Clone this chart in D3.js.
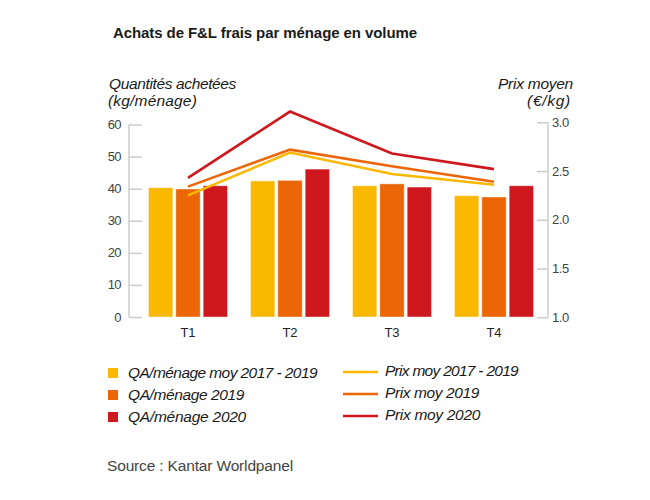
<!DOCTYPE html>
<html><head><meta charset="utf-8">
<script src="https://cdn.jsdelivr.net/npm/d3@7"></script>
<style>
body{margin:0;background:#fff;}
text{font-family:"Liberation Sans",Arial,sans-serif;}
</style></head>
<body><svg id="c" width="650" height="500"></svg>
<script>
const categories = ["T1","T2","T3","T4"];
const barSeries = ["QA/ménage moy 2017 - 2019","QA/ménage 2019","QA/ménage 2020"];
const qaMoy1719 = [40.3, 42.4, 40.9, 37.8];
const qa2019 = [39.9, 42.6, 41.5, 37.4];
const qa2020 = [40.9, 46.1, 40.5, 40.9];
const lineSeries = ["Prix moy 2017 - 2019","Prix moy 2019","Prix moy 2020"];
const prixMoy1719 = [2.25, 2.69, 2.47, 2.36];
const prix2019 = [2.34, 2.72, 2.55, 2.39];
const prix2020 = [2.43, 3.11, 2.68, 2.52];
const leftTicks = [0,10,20,30,40,50,60];
const rightTicks = [1.0,1.5,2.0,2.5,3.0];
const colors = ["#FBB800","#EC6608","#CE181E"];

const svg = d3.select("#c");
const x0 = d3.scaleBand().domain(categories).range([137,545]).paddingInner(0.225).paddingOuter(0.1125);
const x1 = d3.scaleBand().domain([0,1,2]).range([0,x0.bandwidth()]).paddingInner(0.11);
const yL = d3.scaleLinear().domain([0,60]).range([317,124.5]);
const yR = d3.scaleLinear().domain([1,3]).range([317.3,122.3]);

// fit text to a target width by adjusting letter spacing
function fit(sel, w){
  sel.each(function(){
    const n = this.getComputedTextLength();
    const chars = this.textContent.length;
    const cur = parseFloat(this.getAttribute("letter-spacing")||0);
    this.setAttribute("letter-spacing", cur + (w - n)/chars);
  });
  return sel;
}

// title
fit(svg.append("text").attr("x",113).attr("y",38).attr("font-size",15).attr("font-weight","bold")
  .attr("fill","#1a1a1a").text("Achats de F&L frais par ménage en volume"), 304);

// axis titles
const at = svg.append("g").attr("font-size",15.5).attr("font-style","italic").attr("fill","#1a1a1a");
fit(at.append("text").attr("x",109).attr("y",89).text("Quantités achetées"),127);
fit(at.append("text").attr("x",108).attr("y",106).text("(kg/ménage)"),89);
fit(at.append("text").attr("x",573).attr("y",89).attr("text-anchor","end").text("Prix moyen"),75);
fit(at.append("text").attr("x",571).attr("y",106).attr("text-anchor","end").text("(€/kg)"),44);

// bars
const barData = [qaMoy1719, qa2019, qa2020];
categories.forEach((c,i)=>{
  const g = svg.append("g").attr("transform",`translate(${x0(c)},0)`);
  barData.forEach((arr,j)=>{
    g.append("rect").attr("x",x1(j)).attr("width",x1.bandwidth())
      .attr("y",yL(arr[i])).attr("height",yL(0)-yL(arr[i]))
      .attr("fill",colors[j]).attr("stroke","#fff").attr("stroke-opacity",0.5).attr("stroke-width",0.8);
  });
});

// axes
const axL = svg.append("g").attr("transform","translate(129,0)")
  .call(d3.axisRight(yL).tickValues(leftTicks).tickSize(13).tickFormat(""));
axL.select(".domain").remove();
axL.append("line").attr("x1",0).attr("x2",0).attr("y1",yL(60)).attr("y2",yL(0));
axL.selectAll("line").attr("stroke","#cccccc").attr("stroke-width",1.5);
svg.append("g").selectAll("text").data(leftTicks).join("text")
  .attr("x",121).attr("y",d=>yL(d)+4.5).attr("text-anchor","end").attr("font-size",13)
  .attr("fill","#444").attr("letter-spacing","-0.6").text(d=>d);

const axR = svg.append("g").attr("transform","translate(548,0)")
  .call(d3.axisLeft(yR).tickValues(rightTicks).tickSize(11).tickFormat(""));
axR.select(".domain").remove();
axR.append("line").attr("x1",0).attr("x2",0).attr("y1",yR(3)).attr("y2",yR(1));
axR.selectAll("line").attr("stroke","#cccccc").attr("stroke-width",1.5);
svg.append("g").selectAll("text").data(rightTicks).join("text")
  .attr("x",552).attr("y",d=>yR(d)+4.5).attr("font-size",13)
  .attr("fill","#444").attr("letter-spacing","-0.4").text(d=>d.toFixed(1));

// x labels
svg.append("g").selectAll("text").data(categories).join("text")
  .attr("x",d=>x0(d)+x0.bandwidth()/2).attr("y",337).attr("text-anchor","middle")
  .attr("font-size",13).attr("fill","#222").text(d=>d);

// lines
const lineData = [prixMoy1719, prix2019, prix2020];
const line = d3.line().x((d,i)=>x0(categories[i])+x0.bandwidth()/2).y(d=>yR(d));
lineData.forEach((arr,j)=>{
  svg.append("path").attr("d",line(arr)).attr("fill","none")
    .attr("stroke",colors[j]).attr("stroke-width",2.6);
});

// legend
const lg = svg.append("g").attr("font-size",15.5).attr("font-style","italic").attr("fill","#1a1a1a");
const rows = [373,395,417];
const barW = [189,116,118];
const lineW = [133,94,95];
barSeries.forEach((s,j)=>{
  lg.append("rect").attr("x",108).attr("y",rows[j]-5).attr("width",10).attr("height",10).attr("fill",colors[j]);
  fit(lg.append("text").attr("x",128).attr("y",rows[j]+5).text(s), barW[j]);
});
lineSeries.forEach((s,j)=>{
  lg.append("line").attr("x1",343).attr("x2",378).attr("y1",rows[j]-1).attr("y2",rows[j]-1)
    .attr("stroke",colors[j]).attr("stroke-width",2.6);
  fit(lg.append("text").attr("x",385).attr("y",rows[j]+3).text(s), lineW[j]);
});

// source
fit(svg.append("text").attr("x",107).attr("y",471).attr("font-size",15.5).attr("fill","#444")
  .text("Source : Kantar Worldpanel"), 186);
</script></body></html>
